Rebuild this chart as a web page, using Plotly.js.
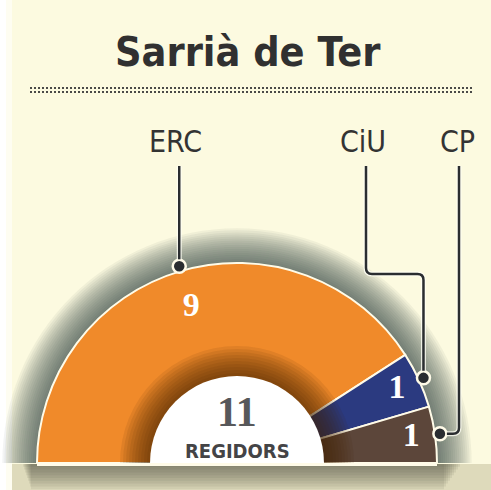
<!DOCTYPE html>
<html>
<head>
<meta charset="utf-8">
<script src="https://cdn.plot.ly/plotly-3.0.1.min.js"></script>
<style>html,body{margin:0;padding:0;background:#fcfae0;}#chart{width:491px;height:490px;}</style>
</head>
<body>
<div id="chart"></div>
<script>
// ---- data ----
const parties = ['ERC', 'CiU', 'CP'];
const seats = [9, 1, 1];
const partyColors = ['#f08a2a', '#2b3a80', '#5c463a'];
const numberR = [0.81, 0.88, 0.88];
const titleText = 'Sarrià de Ter';
const centerLabel = 'REGIDORS';

// ---- geometry (pixels) ----
const W = 491, H = 490;
const CX = 237, CY = 463, R = 200;   // centre and outer radius of the half donut
const RMAX = 1.18;                    // radial range (1 = outer edge)
const HOLE = 0.435;                   // white centre radius
const DOT_R = 1.025;
const px = (x) => x / W;
const py = (y) => 1 - y / H;

const total = seats.reduce((a, b) => a + b, 0);
const widths = seats.map(s => s / total * 180);
const mids = [];
let acc = 0;
widths.forEach(w => { mids.push(acc + w / 2); acc += w; });

const traces = [];
// outer soft shadow
const NSH = 17;
for (let i = 0; i < NSH; i++) {
  traces.push({
    type: 'barpolar', r: [1.0 + (i + 1) * 0.0102], theta: [90], width: [180],
    marker: {color: 'rgba(50,64,74,0.058)', line: {width: 0}},
    hoverinfo: 'skip', showlegend: false
  });
}
// party slices
traces.push({
  type: 'barpolar', r: seats.map(() => 1), theta: mids, width: widths,
  marker: {color: partyColors, line: {color: '#fffbe8', width: 2}},
  text: parties, hoverinfo: 'text', showlegend: false
});
// inner shadow around the white centre
const NIN = 10;
for (let i = 0; i < NIN; i++) {
  traces.push({
    type: 'barpolar', r: [HOLE + (i + 1) * 0.015], theta: [90], width: [180],
    marker: {color: 'rgba(70,35,5,0.09)', line: {width: 0}},
    hoverinfo: 'skip', showlegend: false
  });
}
// white centre
traces.push({
  type: 'barpolar', r: [HOLE], theta: [90], width: [180],
  marker: {color: '#ffffff', line: {width: 0}},
  hoverinfo: 'skip', showlegend: false
});
// seat numbers
traces.push({
  type: 'scatterpolar', mode: 'text', r: numberR, theta: mids,
  text: seats.map(String), textposition: 'middle center',
  textfont: {family: 'Liberation Serif, DejaVu Serif, serif', size: 34, color: '#ffffff', weight: 'bold'},
  hoverinfo: 'skip', showlegend: false, cliponaxis: false
});
// leader dots
traces.push({
  type: 'scatterpolar', mode: 'markers', r: seats.map(() => DOT_R), theta: mids,
  marker: {size: 13, color: '#2a2d30', line: {color: '#fffbe8', width: 2.5}},
  hoverinfo: 'skip', showlegend: false, cliponaxis: false
});

// dot pixel positions (from the same angles)
const dots = mids.map(m => {
  const a = (180 - m) * Math.PI / 180;
  return [CX + R * DOT_R * Math.cos(a), CY - R * DOT_R * Math.sin(a)];
});
const P = (x, y) => px(x).toFixed(5) + ' ' + py(y).toFixed(5);
const labelX = [176, 366, 459];
const lineTop = 166;
const paths = [
  'M ' + P(dots[0][0], lineTop) + ' L ' + P(dots[0][0], dots[0][1] - 7),
  'M ' + P(labelX[1], lineTop) + ' L ' + P(labelX[1], 268) + ' Q ' + P(labelX[1], 274) + ' ' + P(labelX[1] + 6, 274) +
    ' L ' + P(dots[1][0] - 6, 274) + ' Q ' + P(dots[1][0], 274) + ' ' + P(dots[1][0], 280) + ' L ' + P(dots[1][0], dots[1][1] - 7),
  'M ' + P(labelX[2], lineTop) + ' L ' + P(labelX[2], dots[2][1] - 6) + ' Q ' + P(labelX[2], dots[2][1]) + ' ' + P(labelX[2] - 6, dots[2][1]) +
    ' L ' + P(dots[2][0] + 7, dots[2][1])
];

const shapes = [];
// left white strip
shapes.push({type: 'rect', xref: 'paper', yref: 'paper', x0: 0, x1: px(6), y0: 0, y1: 1, fillcolor: '#ffffff', line: {width: 0}, layer: 'below'});
shapes.push({type: 'rect', xref: 'paper', yref: 'paper', x0: px(6), x1: px(12), y0: 0, y1: 1, fillcolor: 'rgba(255,255,255,0.55)', line: {width: 0}, layer: 'below'});
// bottom shadow strip (layered gradient)
shapes.push({type: 'rect', xref: 'paper', yref: 'paper', x0: px(12), x1: 1, y0: 0, y1: py(464), fillcolor: '#dedabb', line: {width: 0}, layer: 'below'});
for (let k = 1; k <= 9; k++) {
  shapes.push({type: 'rect', xref: 'paper', yref: 'paper', x0: px(22 + k), x1: px(462 - k * 2), y0: py(464 + k * 2.8), y1: py(464),
    fillcolor: 'rgba(70,72,62,0.085)', line: {width: 0}, layer: 'below'});
}
// white base line under donut
shapes.push({type: 'line', xref: 'paper', yref: 'paper', x0: px(CX - R), x1: px(CX + R), y0: py(464.5), y1: py(464.5), line: {color: '#fffbe8', width: 3}});
// dotted rule under title (two rows)
[88, 92].forEach(y => shapes.push({type: 'line', xref: 'paper', yref: 'paper', x0: px(30), x1: px(473), y0: py(y), y1: py(y),
  line: {color: '#4a4a48', width: 2, dash: '2px,2px'}}));
// leader lines (halo + line)
paths.forEach(p => shapes.push({type: 'path', xref: 'paper', yref: 'paper', path: p, line: {color: 'rgba(255,255,245,0.8)', width: 5}}));
paths.forEach(p => shapes.push({type: 'path', xref: 'paper', yref: 'paper', path: p, line: {color: '#2a2d30', width: 2.5}}));

const narrow = 'Liberation Sans Narrow, DejaVu Sans Condensed, Roboto, sans-serif';
const annotations = [
  {text: '<b>' + titleText + '</b>', x: px(248), y: py(52), xref: 'paper', yref: 'paper', showarrow: false,
   xanchor: 'center', yanchor: 'middle', font: {family: narrow, size: 41, color: '#303030'}},
  {text: '<b>' + String(total) + '</b>', x: px(CX), y: py(412), xref: 'paper', yref: 'paper', showarrow: false,
   xanchor: 'center', yanchor: 'middle', font: {family: 'Liberation Serif, DejaVu Serif, serif', size: 42, color: '#57585a'}},
  {text: '<b>' + centerLabel + '</b>', x: px(CX), y: py(451), xref: 'paper', yref: 'paper', showarrow: false,
   xanchor: 'center', yanchor: 'middle', font: {family: narrow, size: 20, color: '#444446'}}
];
const labelCX = [175, 363, 457];
parties.forEach((p, i) => annotations.push({text: p, x: px(labelCX[i]), y: py(141), xref: 'paper', yref: 'paper', showarrow: false,
  xanchor: 'center', yanchor: 'middle', font: {family: narrow, size: 30, color: '#333333'}}));

const layout = {
  width: W, height: H,
  margin: {l: 0, r: 0, t: 0, b: 0, pad: 0},
  paper_bgcolor: '#fcfae0',
  plot_bgcolor: 'rgba(0,0,0,0)',
  showlegend: false,
  polar: {
    domain: {x: [px(CX - R * RMAX), px(CX + R * RMAX)], y: [py(CY), py(CY - R * RMAX)]},
    sector: [0, 180],
    hole: 0,
    barmode: 'overlay',
    bgcolor: 'rgba(0,0,0,0)',
    radialaxis: {visible: false, range: [0, RMAX], showgrid: false, showline: false, ticks: ''},
    angularaxis: {visible: false, rotation: 180, direction: 'clockwise', showgrid: false, showline: false, ticks: ''}
  },
  shapes: shapes,
  annotations: annotations
};

Plotly.newPlot('chart', traces, layout, {displayModeBar: false, staticPlot: true});
</script>
</body>
</html>
